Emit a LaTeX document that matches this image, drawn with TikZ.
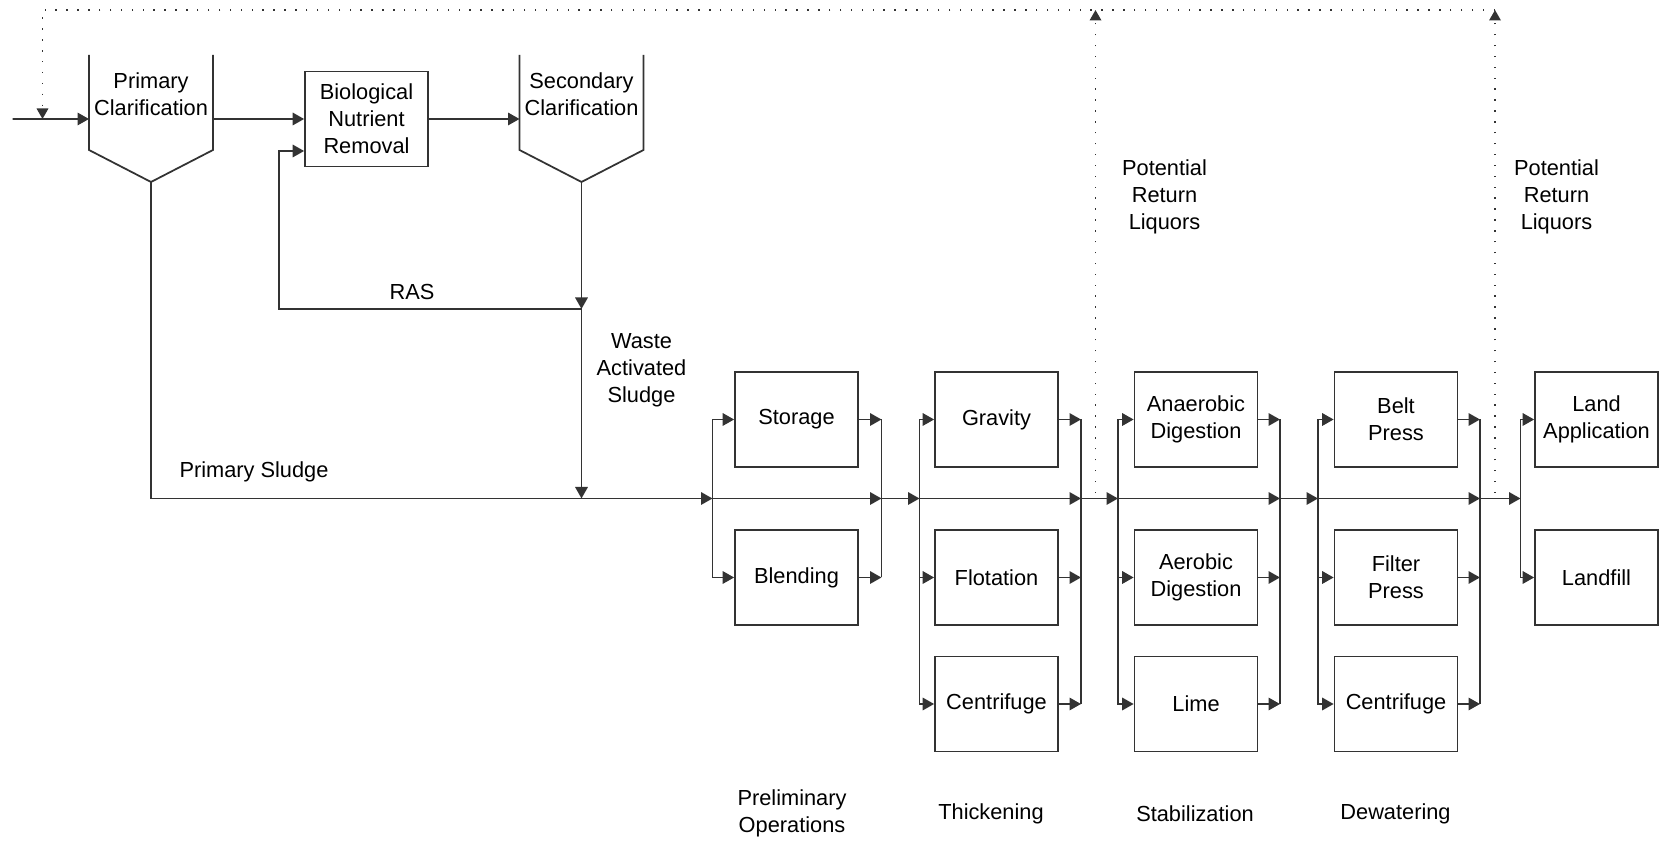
\documentclass[tikz,border=0pt]{standalone}
\usepackage{fontspec}
\setmainfont{Liberation Sans}
\usetikzlibrary{arrows.meta, calc, positioning}

\begin{document}
\begin{tikzpicture}[
    txt/.style={font=\fontsize{12.4}{15.3}\selectfont, align=center, inner sep=1pt},
    box/.style={txt, draw=black!80, line width=1pt, minimum width=2.46cm, minimum height=1.9cm},
    wall/.style={draw=black!80, line width=1pt},
    wire/.style={draw=black!80, line width=1pt},
    flow/.style={wire, -{Triangle[length=2.3mm, width=2.5mm]}},
    ret/.style={draw=black!80, line width=1pt, dash pattern=on 0.8pt off 5.4pt,
                -{Triangle[length=2.1mm, width=2.3mm]}},
]
\useasboundingbox (0,0) rectangle (33.2,16.86);

% liquid train
\node[txt] (pc) at (3.02,14.97) {Primary\\Clarification};
\draw[wall] ($(pc)+(-1.24,0.79)$) -- ++(0,-1.90) -- ($(pc)+(0,-1.75)$) coordinate (pc-bot)
   -- ($(pc)+(1.24,-1.11)$) -- ++(0,1.90);
\coordinate (pc-in) at ($(pc)+(-1.24,-0.49)$);
\coordinate (pc-out) at ($(pc)+(1.24,-0.49)$);
\node[box] (bnr) at (7.33,14.48) {Biological\\Nutrient\\Removal};
\node[txt] (sc) at (11.63,14.97) {Secondary\\Clarification};
\draw[wall] ($(sc)+(-1.24,0.79)$) -- ++(0,-1.90) -- ($(sc)+(0,-1.75)$) coordinate (sc-bot)
   -- ($(sc)+(1.24,-1.11)$) -- ++(0,1.90);
\coordinate (sc-in) at ($(sc)+(-1.24,-0.49)$);

\coordinate (feed) at (0.25,14.48);
\coordinate (ras) at (11.63,10.68);
\coordinate (was) at (11.63,6.89);
\coordinate (s1-in) at (14.25,6.89);
\draw[flow] (feed) -- (pc-in);
\draw[flow] (pc-out) -- (bnr.west);
\draw[flow] (bnr.east) -- (sc-in);
\draw[flow] (sc-bot) -- (ras);
\draw[flow] (ras) -- (was);
\draw[flow] (ras) -| ($(bnr.west)+(-0.51,-0.64)$) -- ($(bnr.west)+(0,-0.64)$);
\draw[flow] (pc-bot) |- (s1-in);
\node[txt] (ras-lbl) at (8.24,11.02) {RAS};
\node[txt] (ps-lbl) at (5.08,7.42) {Primary Sludge};
\node[txt] (was-lbl) at (12.83,9.45) {Waste\\Activated\\Sludge};

% preliminary operations
\node[box] (sto) at (15.93,8.47) {Storage};
\node[box] (ble) at (15.93,5.31) {Blending};
\coordinate (s1-out) at (17.63,6.89);
\draw[flow] (s1-in) |- (sto.west);
\draw[flow] (s1-in) |- (ble.west);
\draw[flow] (s1-in) -- (s1-out);
\draw[flow] (sto.east) -- (sto.east -| s1-out);
\draw[flow] (ble.east) -- (ble.east -| s1-out);
\draw[wire] (sto.east -| s1-out) -- (ble.east -| s1-out);

% thickening
\coordinate (s2-in) at (18.39,6.89);
\coordinate (s2-out) at (21.62,6.89);
\node[box] (grav) at (19.93,8.47) {Gravity};
\node[box] (flot) at (19.93,5.31) {Flotation};
\node[box] (cent1) at (19.93,2.78) {Centrifuge};
\draw[flow] (s1-out) -- (s2-in);
\draw[flow] (s2-in) |- (grav.west);
\draw[flow] (s2-in) |- (flot.west);
\draw[flow] (s2-in) |- (cent1.west);
\draw[flow] (s2-in) -- (s2-out);
\draw[flow] (grav.east) -- (grav.east -| s2-out);
\draw[flow] (flot.east) -- (flot.east -| s2-out);
\draw[flow] (cent1.east) -- (cent1.east -| s2-out);
\draw[wire] (grav.east -| s2-out) -- (cent1.east -| s2-out);

% stabilization
\coordinate (s3-in) at (22.36,6.89);
\coordinate (s3-out) at (25.60,6.89);
\node[box] (anae) at (23.92,8.47) {Anaerobic\\Digestion};
\node[box] (aero) at (23.92,5.31) {Aerobic\\Digestion};
\node[box] (lime) at (23.92,2.78) {Lime};
\draw[flow] (s2-out) -- (s3-in);
\draw[flow] (s3-in) |- (anae.west);
\draw[flow] (s3-in) |- (aero.west);
\draw[flow] (s3-in) |- (lime.west);
\draw[flow] (s3-in) -- (s3-out);
\draw[flow] (anae.east) -- (anae.east -| s3-out);
\draw[flow] (aero.east) -- (aero.east -| s3-out);
\draw[flow] (lime.east) -- (lime.east -| s3-out);
\draw[wire] (anae.east -| s3-out) -- (lime.east -| s3-out);

% dewatering
\coordinate (s4-in) at (26.36,6.89);
\coordinate (s4-out) at (29.60,6.89);
\node[box] (belt) at (27.92,8.47) {Belt\\Press};
\node[box] (filt) at (27.92,5.31) {Filter\\Press};
\node[box] (cent2) at (27.92,2.78) {Centrifuge};
\draw[flow] (s3-out) -- (s4-in);
\draw[flow] (s4-in) |- (belt.west);
\draw[flow] (s4-in) |- (filt.west);
\draw[flow] (s4-in) |- (cent2.west);
\draw[flow] (s4-in) -- (s4-out);
\draw[flow] (belt.east) -- (belt.east -| s4-out);
\draw[flow] (filt.east) -- (filt.east -| s4-out);
\draw[flow] (cent2.east) -- (cent2.east -| s4-out);
\draw[wire] (belt.east -| s4-out) -- (cent2.east -| s4-out);

% disposal
\coordinate (s5-in) at (30.41,6.89);
\node[box] (land) at (31.93,8.47) {Land\\Application};
\node[box] (fill) at (31.93,5.31) {Landfill};
\draw[flow] (s4-out) -- (s5-in);
\draw[flow] (s5-in) |- (land.west);
\draw[flow] (s5-in) |- (fill.west);

% return liquors
\coordinate (rl1) at (21.91,7.0);
\coordinate (rl2) at (29.90,7.0);
\coordinate (rtop) at (0.85,16.66);
\draw[ret] (rl1) -- (rl1 |- rtop);
\draw[ret] (rl2) -- (rl2 |- rtop);
\draw[ret] (rl2 |- rtop) -- (rtop) -- (rtop |- feed);
\node[txt] (rl1-lbl) at (23.29,12.92) {Potential\\Return\\Liquors};
\node[txt] (rl2-lbl) at (31.13,12.92) {Potential\\Return\\Liquors};

% stage names
\node[txt] (st1) at (15.84,0.60) {Preliminary\\Operations};
\node[txt] (st2) at (19.82,0.58) {Thickening};
\node[txt] (st3) at (23.90,0.58) {Stabilization};
\node[txt] (st4) at (27.91,0.58) {Dewatering};
\end{tikzpicture}
\end{document}
